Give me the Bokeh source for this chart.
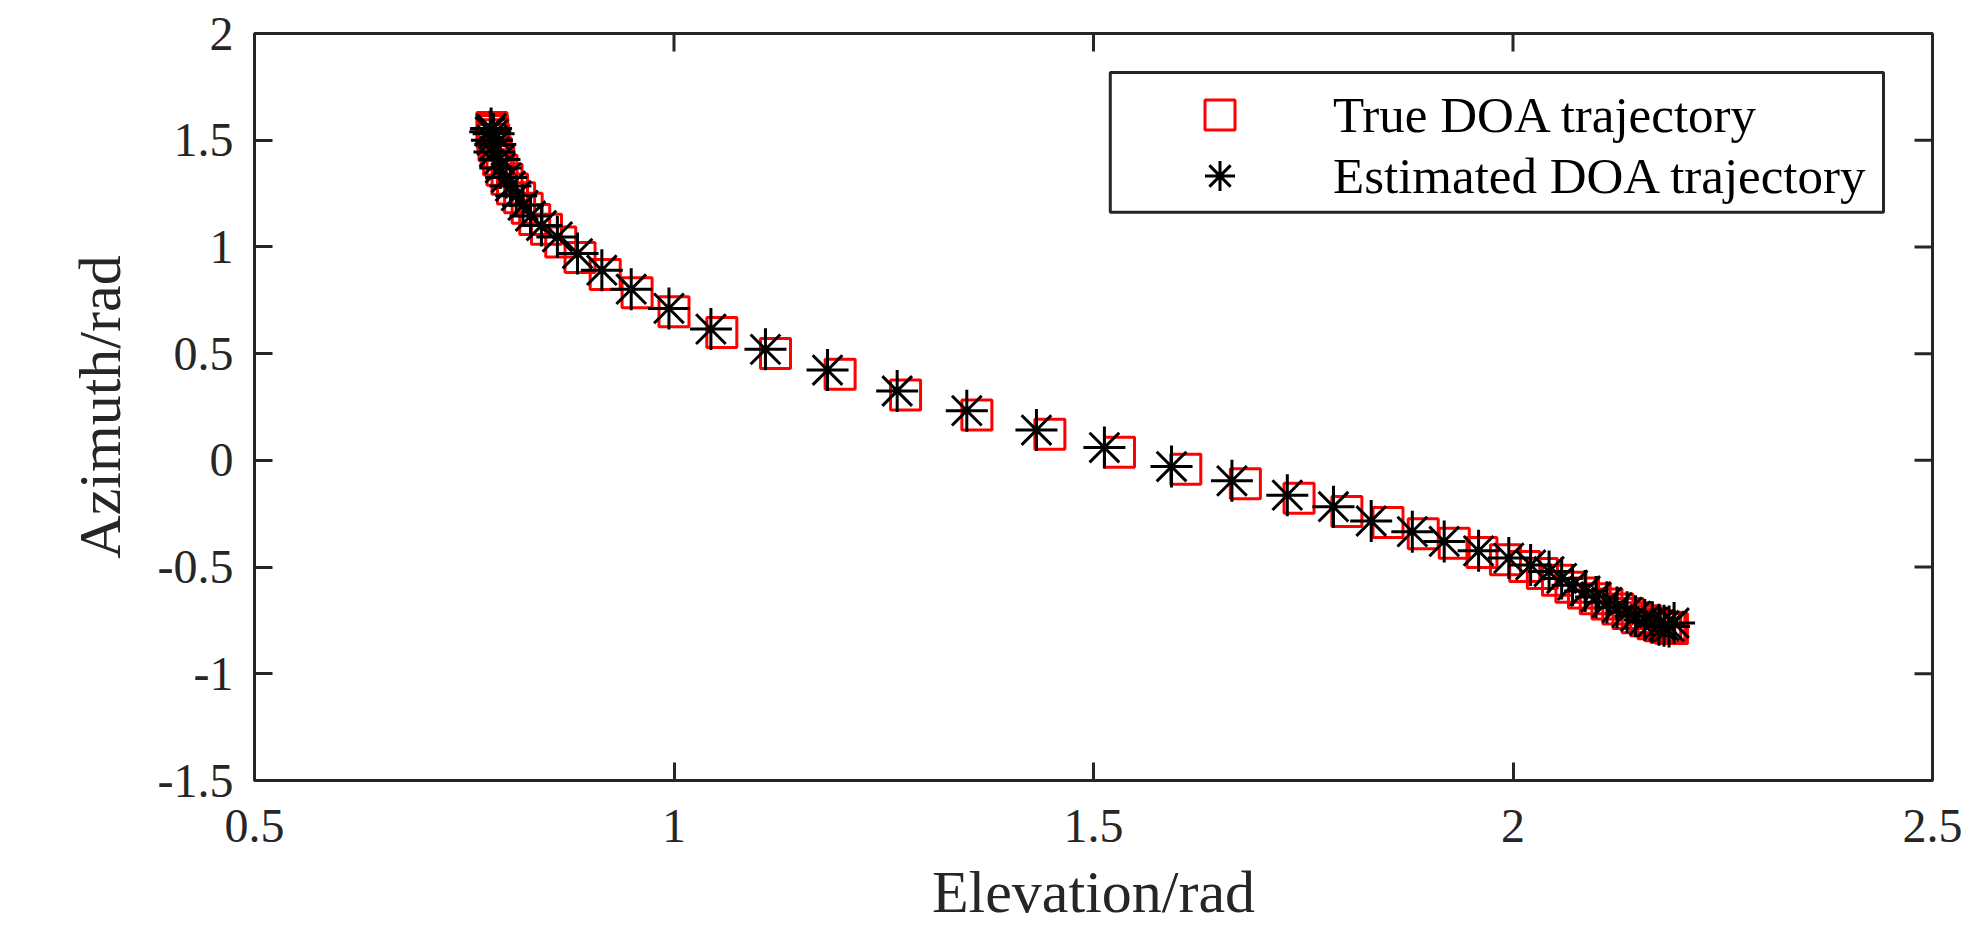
from bokeh.plotting import figure
from bokeh.models import (Range1d, FixedTicker, CustomJSTickFormatter,
                          Legend, LegendItem, BoxAnnotation)
from bokeh.embed import file_html
from bokeh.resources import INLINE

# ---- data ----
true_el = [0.783, 0.7836, 0.784, 0.785, 0.7855, 0.788, 0.791, 0.795, 0.801, 0.8075,
           0.816, 0.825, 0.834, 0.848, 0.865,
           0.888, 0.918, 0.956, 1.000, 1.057, 1.121, 1.198, 1.276, 1.361, 1.448,
           1.531, 1.610, 1.681, 1.745, 1.802, 1.851, 1.893, 1.930, 1.963, 1.991, 2.014,
           2.035, 2.053, 2.069, 2.084, 2.098, 2.112, 2.125, 2.137, 2.148, 2.158,
           2.167, 2.175, 2.182, 2.187, 2.190]
true_az = [1.559, 1.545, 1.526, 1.503, 1.475, 1.441, 1.407, 1.359, 1.317, 1.272,
           1.230, 1.181, 1.129, 1.083, 1.023,
           0.950, 0.871, 0.785, 0.696, 0.599, 0.501, 0.404, 0.306, 0.212, 0.122,
           0.038, -0.042, -0.110, -0.177, -0.240, -0.291, -0.344, -0.388, -0.432, -0.466, -0.497,
           -0.530, -0.562, -0.595, -0.622, -0.648, -0.673, -0.697, -0.718, -0.737, -0.752,
           -0.765, -0.775, -0.782, -0.786, -0.788]

est_el = [0.782, 0.781, 0.785, 0.783, 0.787, 0.786, 0.792, 0.793, 0.800, 0.805,
          0.812, 0.820, 0.829, 0.842, 0.861,
          0.885, 0.914, 0.949, 0.994, 1.044, 1.109, 1.183, 1.266, 1.349, 1.432,
          1.513, 1.593, 1.665, 1.731, 1.786, 1.831, 1.880, 1.918, 1.959, 1.995, 2.021,
          2.043, 2.058, 2.071, 2.086, 2.099, 2.112, 2.124, 2.136, 2.146, 2.157,
          2.166, 2.174, 2.180, 2.186, 2.192]
est_az = [1.555, 1.540, 1.530, 1.500, 1.480, 1.445, 1.410, 1.370, 1.325, 1.285,
          1.240, 1.195, 1.145, 1.100, 1.047,
          0.969, 0.891, 0.802, 0.712, 0.615, 0.520, 0.423, 0.325, 0.233, 0.142,
          0.060, -0.029, -0.096, -0.163, -0.217, -0.284, -0.334, -0.380, -0.424, -0.458, -0.490,
          -0.521, -0.553, -0.585, -0.612, -0.640, -0.665, -0.690, -0.712, -0.730, -0.748,
          -0.758, -0.770, -0.775, -0.778, -0.762]

x_ticks = [0.5, 1.0, 1.5, 2.0, 2.5]
y_ticks = [-1.5, -1.0, -0.5, 0.0, 0.5, 1.0, 1.5, 2.0]

labels = ["True DOA trajectory", "Estimated DOA trajectory"]
x_label = "Elevation/rad"
y_label = "Azimuth/rad"

AX = "#262626"
FONT = "Liberation Serif"

X0, X1 = x_ticks[0], x_ticks[-1]
Y0, Y1 = y_ticks[0], y_ticks[-1]
FW, FH = 1678, 748          # frame size in px
TICK = 18                   # tick length in px

p = figure(width=1970, height=927, output_backend="svg", toolbar_location=None,
           x_range=Range1d(X0, X1), y_range=Range1d(Y0, Y1),
           min_border_left=254, min_border_right=38, min_border_top=33, min_border_bottom=146)
p.outline_line_color = AX
p.outline_line_width = 3
p.xgrid.visible = False
p.ygrid.visible = False
p.background_fill_color = "white"
p.border_fill_color = "white"

fmt = CustomJSTickFormatter(code="return tick.toString();")

for ax, ticks in ((p.xaxis[0], x_ticks), (p.yaxis[0], y_ticks)):
    ax.ticker = FixedTicker(ticks=ticks)
    ax.formatter = fmt
    ax.axis_line_color = AX
    ax.axis_line_width = 3
    ax.major_tick_line_color = AX
    ax.major_tick_line_width = 3
    ax.major_tick_in = TICK
    ax.major_tick_out = 0
    ax.minor_tick_line_color = None
    ax.major_label_text_font = FONT
    ax.major_label_text_color = AX
    ax.major_label_text_font_size = "48px"
    ax.axis_label_text_font = FONT
    ax.axis_label_text_font_size = "60px"
    ax.axis_label_text_font_style = "normal"
    ax.axis_label_text_color = AX

p.xaxis[0].axis_label = x_label
p.yaxis[0].axis_label = y_label
p.xaxis[0].major_label_standoff = 29
p.xaxis[0].axis_label_standoff = 14
p.yaxis[0].major_label_standoff = 21
p.yaxis[0].axis_label_standoff = 22

# mirrored ticks on top and right edges of the box
ty = TICK * (Y1 - Y0) / FH
tx = TICK * (X1 - X0) / FW
p.segment(x0=x_ticks, y0=[Y1] * len(x_ticks), x1=x_ticks, y1=[Y1 - ty] * len(x_ticks),
          line_color=AX, line_width=3)
p.segment(x0=[X1] * len(y_ticks), y0=y_ticks, x1=[X1 - tx] * len(y_ticks), y1=y_ticks,
          line_color=AX, line_width=3)

r_true = p.scatter(true_el, true_az, marker="square", size=30, fill_color=None,
                   line_color="#FF0000", line_width=3)
r_est = p.scatter(est_el, est_az, marker="asterisk", size=42,
                  line_color="#000000", line_width=3)

box = BoxAnnotation(left=1.520, right=2.4416, top=1.8175, bottom=1.1624,
                    fill_color="white", fill_alpha=1.0,
                    line_color=AX, line_alpha=1.0, line_width=3)
p.add_layout(box)

for item, r, ypos in ((labels[0], r_true, 628), (labels[1], r_est, 567)):
    lg = Legend(items=[LegendItem(label=item, renderers=[r])],
                location=(928, ypos), glyph_width=75, glyph_height=75,
                padding=0, margin=0, label_standoff=76,
                label_text_font=FONT, label_text_font_size="51px", label_text_color="#000000",
                border_line_alpha=0, background_fill_alpha=0)
    p.add_layout(lg)

open("out.html", "w").write(file_html(p, INLINE))
